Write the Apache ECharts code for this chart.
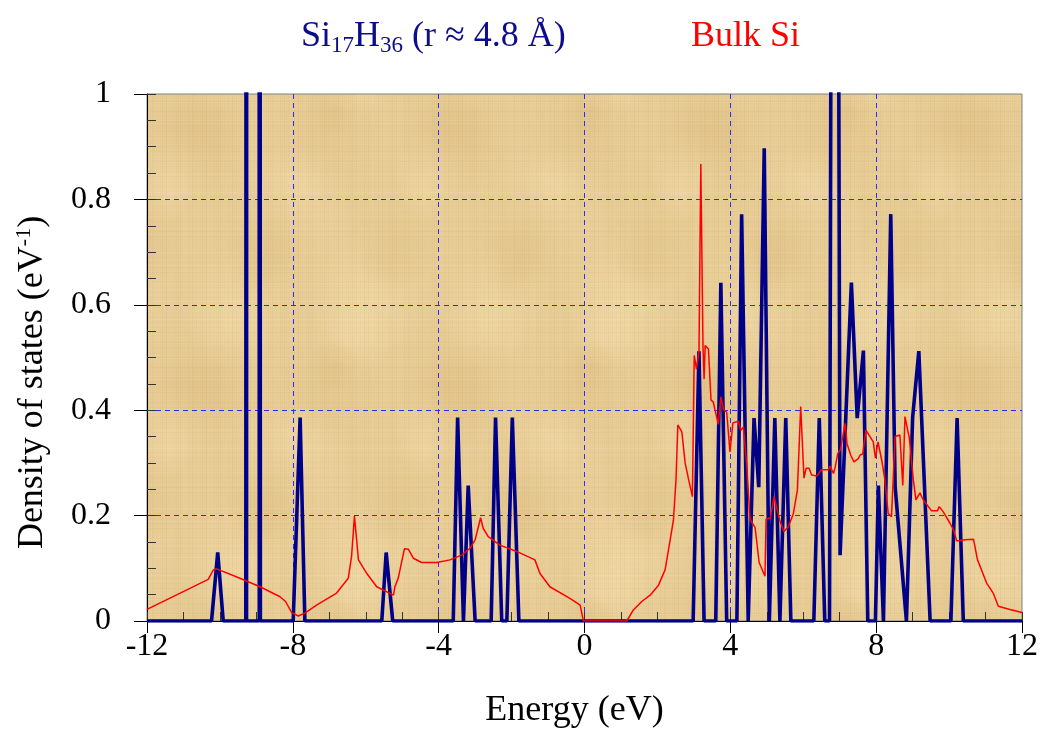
<!DOCTYPE html>
<html>
<head>
<meta charset="utf-8">
<script src="https://cdn.jsdelivr.net/npm/echarts@6/dist/echarts.min.js"></script>
<style>
  html, body { margin: 0; padding: 0; background: #ffffff; }
  #chart { width: 1042px; height: 733px; }
</style>
</head>
<body>
<div id="chart"></div>
<script>
// Density of states of the Si17H36 cluster (stick-like spectrum), energies in eV
const clusterEnergy = [-12, -10.23, -10.06, -9.91, -9.29, -9.25, -9.27, -8.92, -8.94, -8.89,
  -7.99, -7.80, -7.67, -5.56, -5.44, -5.26, -3.60, -3.48, -3.32, -3.19, -3.00,
  -2.56, -2.44, -2.27, -2.13, -1.98, -1.80, 2.98, 3.14, 3.28, 3.60, 3.74, 3.90,
  4.18, 4.31, 4.49, 4.65, 4.78, 4.93, 5.07, 5.22, 5.36, 5.52, 5.66, 6.29, 6.44, 6.59,
  6.72, 6.86, 7.01, 7.32, 7.48, 7.65, 7.77, 7.98, 8.06, 8.20, 8.40, 8.52, 8.83,
  9.00, 9.17, 9.48, 10.05, 10.22, 10.39, 12];
const clusterDos = [0, 0, 0.13, 0, 0, 8, 0, 0, 8, 0,
  0, 0.386, 0, 0, 0.13, 0, 0, 0.386, 0, 0.257, 0,
  0, 0.386, 0, 0, 0.386, 0, 0, 0.512, 0, 0, 0.642, 0,
  0, 0.772, 0, 0.385, 0.254, 0.897, 0, 0.385, 0, 0.385, 0, 0, 0.385, 0,
  0, 4, 0.125, 0.642, 0.385, 0.513, 0, 0, 0.257, 0, 0.772, 0.255, 0,
  0.386, 0.512, 0, 0, 0.385, 0, 0];

// Density of states of bulk silicon
const bulkEnergy = [-12, -10.32, -10.18, -10.09, -9.45, -8.9, -8.35, -8.2, -8.03, -7.85,
  -7.67, -7.35, -6.8, -6.48, -6.39, -6.31, -6.2, -5.97, -5.70, -5.24, -5.2, -5.11,
  -4.94, -4.83, -4.69, -4.47, -4.05, -3.69, -3.37, -3.14, -3.0, -2.85, -2.78, -2.64,
  -2.32, -1.86, -1.36, -1.22, -0.95, -0.40, -0.12, -0.03, 1.16, 1.34, 1.57, 1.80,
  2.03, 2.21, 2.35, 2.44, 2.51, 2.56, 2.67, 2.76, 2.85, 2.96, 3.01, 3.07, 3.14,
  3.19, 3.25, 3.28, 3.31, 3.40, 3.47, 3.53, 3.67, 3.74, 3.81, 3.90, 3.99, 4.07,
  4.22, 4.29, 4.36, 4.45, 4.54, 4.68, 4.79, 4.95, 4.98, 5.10, 5.20, 5.36, 5.47,
  5.59, 5.73, 5.84, 5.93, 6.02, 6.08, 6.16, 6.23, 6.37, 6.50, 6.69, 6.73, 6.83,
  6.87, 6.95, 7.02, 7.15, 7.20, 7.30, 7.39, 7.51, 7.56, 7.63, 7.72, 7.83, 7.92,
  7.98, 8.05, 8.15, 8.24, 8.33, 8.42, 8.52, 8.65, 8.73, 8.79, 8.91, 9.02, 9.09,
  9.20, 9.29, 9.52, 9.68, 9.73, 9.84, 10.03, 10.12, 10.21, 10.44, 10.67, 10.78,
  11.03, 11.21, 11.35, 11.67, 12.0];
const bulkDos = [0.022, 0.079, 0.097, 0.099, 0.081, 0.065, 0.046, 0.037, 0.016, 0.0095,
  0.015, 0.030, 0.053, 0.081, 0.122, 0.199, 0.116, 0.090, 0.065, 0.049, 0.065, 0.081,
  0.137, 0.136, 0.119, 0.111, 0.111, 0.116, 0.125, 0.138, 0.154, 0.196, 0.176, 0.160,
  0.144, 0.132, 0.116, 0.090, 0.065, 0.043, 0.030, 0, 0, 0.021, 0.037, 0.049,
  0.068, 0.097, 0.154, 0.192, 0.268, 0.372, 0.359, 0.30, 0.27, 0.236, 0.504, 0.478, 0.511,
  0.867, 0.52, 0.459, 0.523, 0.516, 0.419, 0.416, 0.373, 0.425, 0.402, 0.396, 0.321, 0.376,
  0.379, 0.362, 0.368, 0.294, 0.193, 0.177, 0.111, 0.085, 0.193, 0.196, 0.236, 0.190, 0.170,
  0.179, 0.204, 0.249, 0.407, 0.271, 0.290, 0.290, 0.277, 0.275, 0.287, 0.287, 0.294, 0.280,
  0.290, 0.318, 0.325, 0.375, 0.337, 0.315, 0.302, 0.308, 0.315, 0.317, 0.362, 0.350, 0.340,
  0.309, 0.340, 0.306, 0.268, 0.204, 0.198, 0.350, 0.353, 0.257, 0.388, 0.347, 0.268, 0.230,
  0.243, 0.230, 0.209, 0.209, 0.217, 0.207, 0.185, 0.173, 0.152, 0.154, 0.155, 0.116,
  0.072, 0.053, 0.028, 0.022, 0.016];

// Axis ranges and tick steps
const energyRange = [-12, 12];
const energyStep = 4;
const dosRange = [0, 1];
const dosStep = 0.2;

const serif = 'Liberation Serif, Times New Roman, serif';
const navy = '#0d0d8c';

// Parchment-like backdrop for the plotting area (seamless tile, fibrous weave)
function parchment() {
  const w = 256, h = 256;
  const cv = document.createElement('canvas');
  cv.width = w; cv.height = h;
  const g = cv.getContext('2d');
  g.fillStyle = '#e8cd96';
  g.fillRect(0, 0, w, h);
  for (let k = 0; k < 18; k++) {
    const cx = (k * 97) % w, cy = (k * 61 + 23) % h, r = 25 + (k * 13) % 45;
    const dark = k % 2 === 0;
    const c0 = dark ? 'rgba(205,165,95,0.14)' : 'rgba(248,230,188,0.22)';
    const c1 = dark ? 'rgba(205,165,95,0)' : 'rgba(248,230,188,0)';
    for (let ox = -w; ox <= w; ox += w) {
      for (let oy = -h; oy <= h; oy += h) {
        const grd = g.createRadialGradient(cx + ox, cy + oy, 0, cx + ox, cy + oy, r);
        grd.addColorStop(0, c0);
        grd.addColorStop(1, c1);
        g.fillStyle = grd;
        g.fillRect(cx + ox - r, cy + oy - r, 2 * r, 2 * r);
      }
    }
  }
  // vertical fibres
  for (let x = 0; x < w; x += 2) {
    const a = 0.11 * Math.abs(Math.sin(x * 0.71) * Math.cos(x * 0.23));
    g.fillStyle = 'rgba(185,145,75,' + a.toFixed(3) + ')';
    g.fillRect(x, 0, 1, h);
  }
  // horizontal fibres
  for (let y = 0; y < h; y += 3) {
    const a = 0.14 * Math.abs(Math.sin(y * 0.53) * Math.sin(y * 0.17));
    g.fillStyle = 'rgba(252,240,210,' + a.toFixed(3) + ')';
    g.fillRect(0, y, w, 1);
  }
  for (let y = 1; y < h; y += 5) {
    const a = 0.07 * Math.abs(Math.cos(y * 0.37));
    g.fillStyle = 'rgba(190,150,85,' + a.toFixed(3) + ')';
    g.fillRect(0, y, w, 1);
  }
  return cv;
}

const gridRect = { left: 147, right: 20, top: 94, bottom: 112 };

const chart = echarts.init(document.getElementById('chart'), null, { renderer: 'canvas' });

chart.setOption({
  animation: false,
  backgroundColor: '#ffffff',
  title: [
    {
      text: '{m|Si}{s|17}{m|H}{s|36}{m| (r ≈ 4.8 Å)}',
      left: 296, top: 12,
      textStyle: {
        fontWeight: 'normal',
        rich: {
          m: { fontFamily: serif, fontSize: 36, fontWeight: 'normal', lineHeight: 40, color: navy },
          s: { fontFamily: serif, fontSize: 23, fontWeight: 'normal', lineHeight: 16, color: navy, verticalAlign: 'bottom' }
        }
      }
    },
    {
      text: 'Bulk Si',
      left: 686, top: 12,
      textStyle: { fontFamily: serif, fontSize: 36, lineHeight: 40, color: '#ff0000', fontWeight: 'normal' }
    }
  ],
  grid: [
    Object.assign({ show: true, backgroundColor: { image: parchment(), repeat: 'repeat' },
      borderColor: '#808080', borderWidth: 1, outerBoundsMode: 'none' }, gridRect),
    Object.assign({ show: false, outerBoundsMode: 'none' }, gridRect)
  ],
  xAxis: [
    {
      type: 'value', gridIndex: 0, position: 'bottom',
      min: energyRange[0], max: energyRange[1], interval: energyStep,
      name: 'Energy (eV)', nameLocation: 'middle', nameGap: 70, nameMoveOverlap: false,
      nameTextStyle: { fontFamily: serif, fontSize: 36, lineHeight: 40, color: '#000', padding: [0, 20, 0, 0] },
      axisLine: { show: true, onZero: false, lineStyle: { color: '#000', width: 1 } },
      axisTick: { show: true, inside: false, length: 12, lineStyle: { color: '#000', width: 1 } },
      axisLabel: { show: true, margin: 8, fontFamily: serif, fontSize: 32, lineHeight: 36, color: '#000' },
      splitLine: { show: true, showMinLine: false, showMaxLine: false,
        lineStyle: { color: '#2b2bff', width: 1, type: [5, 4] } }
    },
    {
      type: 'value', gridIndex: 1, position: 'bottom',
      min: energyRange[0], max: energyRange[1], interval: energyStep,
      axisLine: { show: false, onZero: false },
      axisTick: { show: true, inside: true, length: 9, lineStyle: { color: '#333', width: 1 } },
      minorTick: { show: true, splitNumber: 4, length: 9, lineStyle: { color: '#333', width: 1 } },
      axisLabel: { show: false },
      splitLine: { show: false }
    }
  ],
  yAxis: [
    {
      type: 'value', gridIndex: 0, position: 'left',
      min: dosRange[0], max: dosRange[1], interval: dosStep,
      name: '{m|Density of states (eV}{sup|-1}{m|)}',
      nameLocation: 'middle', nameGap: 94, nameRotate: 90, nameMoveOverlap: false,
      nameTextStyle: {
        padding: [0, 50, 0, 0],
        rich: {
          m: { fontFamily: serif, fontSize: 36, lineHeight: 40, color: '#000' },
          sup: { fontFamily: serif, fontSize: 22, lineHeight: 18, color: '#000', verticalAlign: 'top' }
        }
      },
      axisLine: { show: true, onZero: false, lineStyle: { color: '#000', width: 1 } },
      axisTick: { show: true, inside: false, length: 13, lineStyle: { color: '#000', width: 1 } },
      axisLabel: { show: true, margin: 36, fontFamily: serif, fontSize: 32, color: '#000' },
      splitLine: { show: true, showMinLine: false, showMaxLine: false,
        lineStyle: { color: '#2b2bff', width: 1, type: [5, 4] } }
    },
    {
      type: 'value', gridIndex: 1, position: 'left',
      min: dosRange[0], max: dosRange[1], interval: dosStep,
      axisLine: { show: false, onZero: false },
      axisTick: { show: true, inside: true, length: 9, lineStyle: { color: '#333', width: 1 } },
      minorTick: { show: true, splitNumber: 4, length: 9, lineStyle: { color: '#333', width: 1 } },
      axisLabel: { show: false },
      splitLine: { show: false }
    }
  ],
  series: [
    {
      name: 'Si17H36', type: 'line', xAxisIndex: 0, yAxisIndex: 0,
      data: clusterEnergy.map((e, i) => [e, clusterDos[i]]),
      showSymbol: false, symbol: 'none', clip: true, z: 3,
      lineStyle: { color: '#000088', width: 3.6, join: 'bevel' }
    },
    {
      name: 'Bulk Si', type: 'line', xAxisIndex: 0, yAxisIndex: 0,
      data: bulkEnergy.map((e, i) => [e, bulkDos[i]]),
      showSymbol: false, symbol: 'none', clip: true, z: 4,
      lineStyle: { color: '#ff0000', width: 1.5 }
    }
  ]
});
</script>
</body>
</html>
